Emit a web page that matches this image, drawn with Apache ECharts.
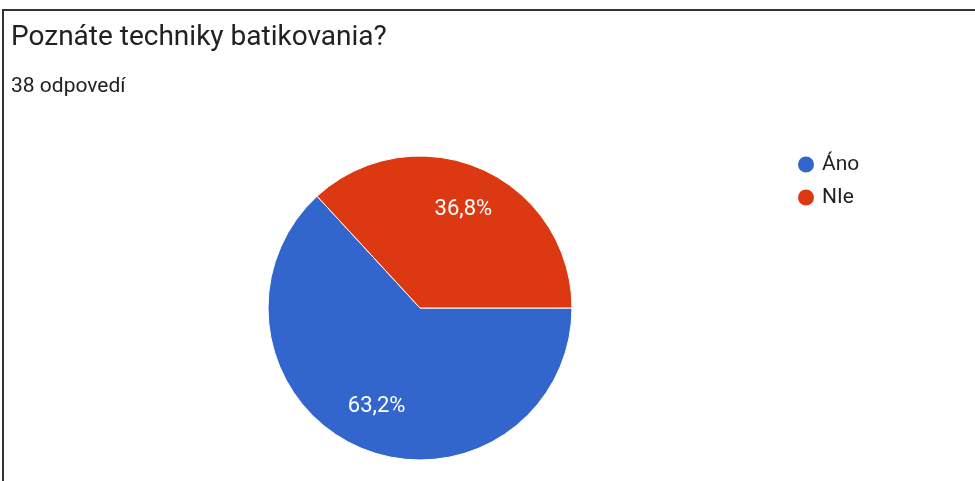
<!DOCTYPE html>
<html><head><meta charset="utf-8">
<script src="https://cdn.jsdelivr.net/npm/echarts@6/dist/echarts.min.js"></script>
<style>html,body{margin:0;padding:0;background:#fff}#c{width:975px;height:481px}</style>
</head><body><div id="c"></div>
<script>
const titleText = 'Poznáte techniky batikovania?';
const subtitleText = '38 odpovedí';
const categories = ['Áno', 'NIe'];
const counts = [24, 14];
const colors = ['#3366cc', '#dc3912'];

const CX = 420, CY = 308, R = 152, LABEL_R = 108;
const chart = echarts.init(document.getElementById('c'), null, {renderer: 'canvas'});
chart.setOption({
  animation: false,
  backgroundColor: '#fff',
  title: [{
    text: titleText, left: 6, top: 19,
    textStyle: {fontFamily: 'Roboto', fontSize: 28, fontWeight: 'normal', color: '#202124'}
  }, {
    text: subtitleText, left: 6, top: 71,
    textStyle: {fontFamily: 'Roboto', fontSize: 21, fontWeight: 'normal', color: '#202124'}
  }],
  legend: {
    orient: 'vertical', left: 796, top: 154, padding: 0,
    icon: 'circle', itemWidth: 22, itemHeight: 18, itemGap: 12,
    textStyle: {fontFamily: 'Roboto', fontSize: 21, color: '#222'},
    data: categories
  },
  graphic: [
    {type: 'line', shape: {x1: 2, y1: 10, x2: 975, y2: 10}, style: {stroke: '#333', lineWidth: 2}},
    {type: 'line', shape: {x1: 3, y1: 9, x2: 3, y2: 481}, style: {stroke: '#333', lineWidth: 2}}
  ],
  series: [{
    type: 'pie',
    center: [CX, CY], radius: R,
    startAngle: 0, clockwise: true,
    itemStyle: {borderColor: '#fff', borderWidth: 1},
    label: {
      position: 'inside', color: '#fff', fontFamily: 'Roboto', fontSize: 22,
      formatter: p => p.percent.toFixed(1).replace('.', ',') + '%'
    },
    labelLayout: function (p) {
      const lx = p.labelRect.x + p.labelRect.width / 2;
      const ly = p.labelRect.y + p.labelRect.height / 2;
      const dx = lx - CX, dy = ly - CY;
      const d = Math.sqrt(dx * dx + dy * dy) || 1;
      return {dx: dx * (LABEL_R / d - 1), dy: dy * (LABEL_R / d - 1)};
    },
    data: categories.map((c, i) => ({name: c, value: counts[i], itemStyle: {color: colors[i]}}))
  }]
});
</script></body></html>
